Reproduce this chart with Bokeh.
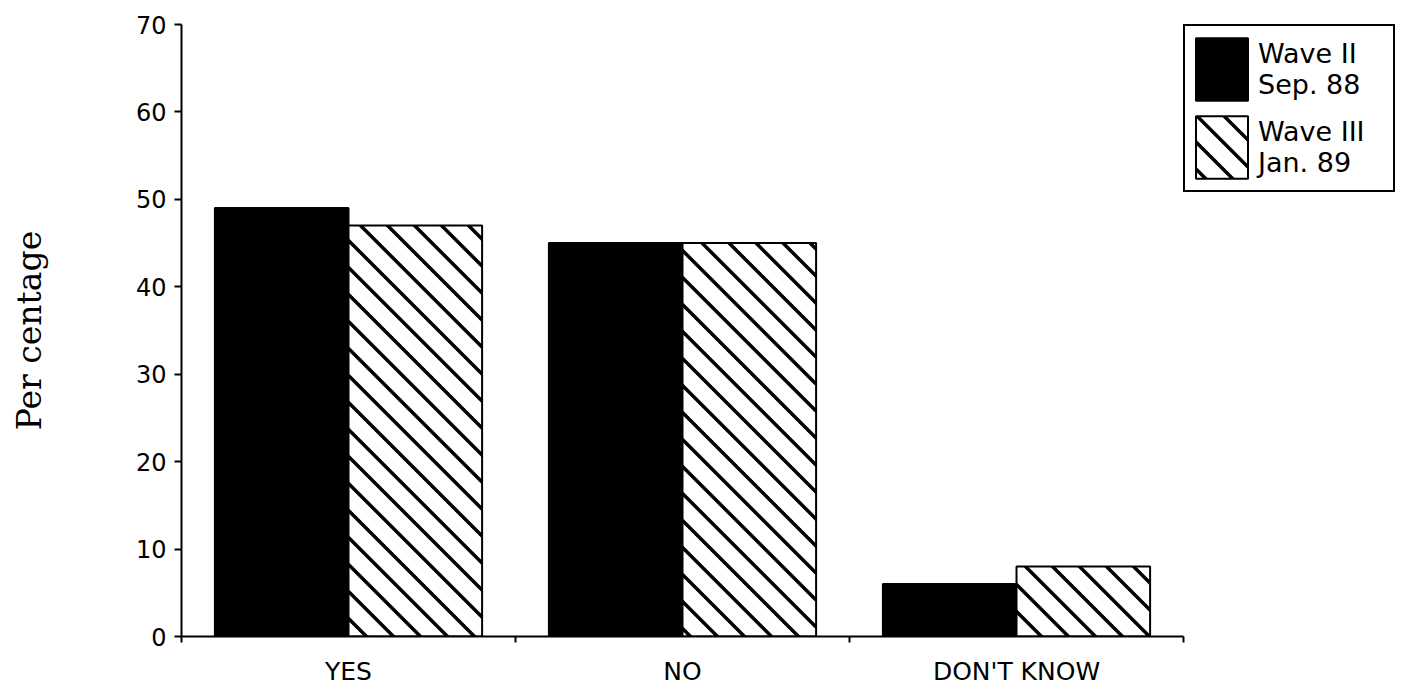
import base64
from bokeh.plotting import figure
from bokeh.models import FixedTicker, Range1d, Legend, LegendItem, ColumnDataSource, ImageURLTexture
from bokeh.core.properties import value
from bokeh.embed import file_html
from bokeh.resources import INLINE

categories = ["YES", "NO", "DON'T KNOW"]
wave2 = [49, 45, 6]
wave3 = [47, 45, 8]
series_labels = ["Wave II\nSep. 88", "Wave III\nJan. 89"]
y_ticks = [0, 10, 20, 30, 40, 50, 60, 70]

centers = [i + 0.5 for i in range(len(categories))]
src2 = ColumnDataSource(dict(x=[c - 0.2 for c in centers], top=wave2))
src3 = ColumnDataSource(dict(x=[c + 0.2 for c in centers], top=wave3))

# 45-degree "\" hatch tile
s = 27
svg = (f'<svg xmlns="http://www.w3.org/2000/svg" width="{s}" height="{s}">'
       f'<path d="M{-s},{-s}L{2*s},{2*s}M0,{-s}L{2*s},{s}M{-s},0L{s},{2*s}" '
       f'stroke="black" stroke-width="3.5" fill="none"/></svg>')
tile_url = "data:image/svg+xml;base64," + base64.b64encode(svg.encode()).decode()
texture = ImageURLTexture(url=tile_url, repetition="repeat")

p = figure(frame_width=1002, frame_height=612, output_backend="svg", toolbar_location=None,
           x_range=Range1d(0, len(categories)), y_range=Range1d(0, 70),
           min_border_left=181, min_border_right=0, min_border_top=24, min_border_bottom=52)
p.outline_line_color = None
p.grid.grid_line_color = None

r2 = p.vbar(x="x", top="top", width=0.4, bottom=0, source=src2,
            fill_color="black", line_color="black", line_width=2)
r3 = p.vbar(x="x", top="top", width=0.4, bottom=0, source=src3,
            fill_color="white", line_color="black", line_width=2,
            hatch_pattern=value("diag45"), hatch_extra={"diag45": texture})

font = "DejaVu Sans"
xa = p.xaxis[0]
xa.ticker = FixedTicker(ticks=centers, minor_ticks=list(range(len(categories) + 1)))
xa.major_label_overrides = {c: lab for c, lab in zip(centers, categories)}
xa.major_tick_line_color = None
xa.minor_tick_out = 6
xa.minor_tick_in = 0
xa.minor_tick_line_width = 2
xa.axis_line_width = 2
xa.major_label_text_font = font
xa.major_label_text_font_size = "25px"
xa.major_label_text_color = "black"
xa.major_label_standoff = 14

ya = p.yaxis[0]
ya.ticker = FixedTicker(ticks=y_ticks)
ya.minor_tick_line_color = None
ya.major_tick_out = 7
ya.major_tick_in = 0
ya.major_tick_line_width = 2
ya.axis_line_width = 2
ya.major_label_text_font = font
ya.major_label_text_font_size = "24px"
ya.major_label_text_color = "black"
ya.major_label_standoff = 8
ya.axis_label = "Per centage"
ya.axis_label_text_font = "DejaVu Serif"
ya.axis_label_text_font_style = "normal"
ya.axis_label_text_font_size = "33px"
ya.axis_label_text_color = "black"
ya.axis_label_standoff = 84

legend = Legend(items=[LegendItem(label=series_labels[0], renderers=[r2]),
                       LegendItem(label=series_labels[1], renderers=[r3])],
                location="top_left", glyph_width=65, glyph_height=78,
                label_text_font=font, label_text_font_size="27px",
                label_text_color="black", label_standoff=4, label_width=131,
                label_text_line_height=1.0,
                border_line_color="black", border_line_width=2, border_line_alpha=1.0,
                padding=4, spacing=0, margin=0,
                background_fill_alpha=1.0)
p.add_layout(legend, "right")

open("out.html", "w").write(file_html(p, INLINE))
